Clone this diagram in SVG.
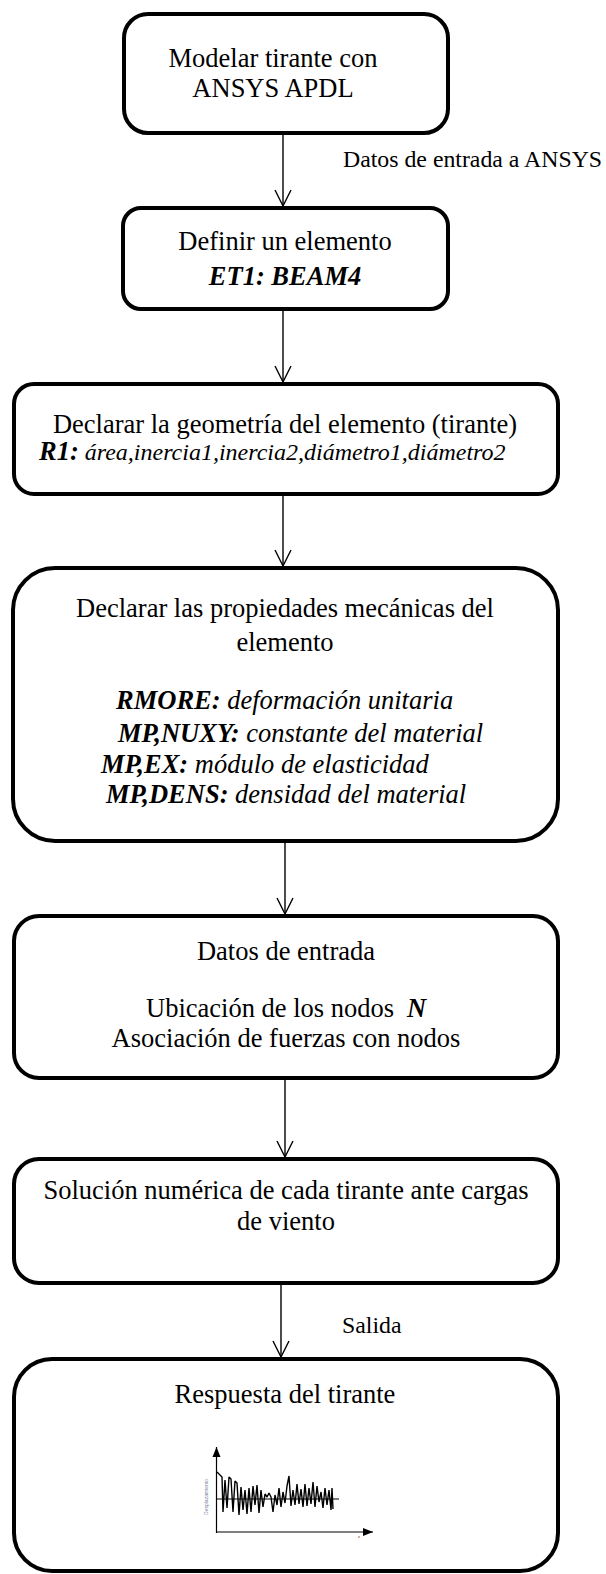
<svg xmlns="http://www.w3.org/2000/svg" width="606" height="1574" viewBox="0 0 606 1574">
<style>
.box{fill:#fff;stroke:#000;stroke-width:4}
.t{font-family:"Liberation Serif","Times New Roman",serif;font-size:26.5px;fill:#000}
.lbl{font-family:"Liberation Serif","Times New Roman",serif;font-size:23.8px;fill:#000}
.bi{font-weight:bold;font-style:italic}
.it{font-style:italic}
.conn{stroke:#000;stroke-width:1.4;fill:none}
</style>
<defs>
<marker id="vhead" markerUnits="userSpaceOnUse" markerWidth="20" markerHeight="20" refX="0" refY="0" orient="auto" overflow="visible">
<path d="M-16,-8 L0,0 L-16,8" fill="none" stroke="#000" stroke-width="1.4"/>
</marker>
<marker id="fhead" markerUnits="userSpaceOnUse" markerWidth="12" markerHeight="12" refX="0" refY="0" orient="auto" overflow="visible">
<path d="M-10,-4 L0,0 L-10,4 Z" fill="#000"/>
</marker>
</defs>
<rect width="606" height="1574" fill="#fff"/>
<g id="connectors">
<line class="conn" x1="283" y1="135" x2="283" y2="206" marker-end="url(#vhead)"/>
<line class="conn" x1="283" y1="311" x2="283" y2="382" marker-end="url(#vhead)"/>
<line class="conn" x1="283" y1="496" x2="283" y2="566" marker-end="url(#vhead)"/>
<line class="conn" x1="285" y1="843" x2="285" y2="914" marker-end="url(#vhead)"/>
<line class="conn" x1="285" y1="1080" x2="285" y2="1157" marker-end="url(#vhead)"/>
<line class="conn" x1="281" y1="1285" x2="281" y2="1357" marker-end="url(#vhead)"/>
<text class="lbl" x="343" y="167">Datos de entrada a ANSYS</text>
<text class="lbl" x="342" y="1333">Salida</text>
</g>
<g id="n1">
<rect class="box" x="124" y="14" width="324" height="119" rx="24"/>
<text class="t" x="273" y="67" text-anchor="middle">Modelar tirante con</text>
<text class="t" x="273" y="97" text-anchor="middle">ANSYS APDL</text>
</g>
<g id="n2">
<rect class="box" x="123" y="208" width="325" height="101" rx="18"/>
<text class="t" x="285" y="250" text-anchor="middle">Definir un elemento</text>
<text class="t bi" x="285" y="285" text-anchor="middle">ET1: BEAM4</text>
</g>
<g id="n3">
<rect class="box" x="14" y="384" width="544" height="110" rx="20"/>
<text class="t" x="285" y="433" text-anchor="middle">Declarar la geometría del elemento (tirante)</text>
<text class="t" x="39" y="460"><tspan class="bi">R1:</tspan><tspan class="it" font-size="24"> área,inercia1,inercia2,diámetro1,diámetro2</tspan></text>
</g>
<g id="n4">
<rect class="box" x="13" y="568" width="545" height="273" rx="42"/>
<text class="t" x="285" y="617" text-anchor="middle">Declarar las propiedades mecánicas del</text>
<text class="t" x="285" y="651" text-anchor="middle">elemento</text>
<text class="t" x="116" y="709"><tspan class="bi">RMORE:</tspan><tspan class="it"> deformación unitaria</tspan></text>
<text class="t" x="118" y="742"><tspan class="bi">MP,NUXY:</tspan><tspan class="it"> constante del material</tspan></text>
<text class="t" x="101" y="773"><tspan class="bi">MP,EX:</tspan><tspan class="it"> módulo de elasticidad</tspan></text>
<text class="t" x="106" y="803"><tspan class="bi">MP,DENS:</tspan><tspan class="it"> densidad del material</tspan></text>
</g>
<g id="n5">
<rect class="box" x="14" y="916" width="544" height="162" rx="25"/>
<text class="t" x="286" y="960" text-anchor="middle">Datos de entrada</text>
<text class="t" x="146" y="1017">Ubicación de los nodos<tspan class="bi" dx="13">N</tspan></text>
<text class="t" x="286" y="1047" text-anchor="middle">Asociación de fuerzas con nodos</text>
</g>
<g id="n6">
<rect class="box" x="14" y="1159" width="544" height="124" rx="25"/>
<text class="t" x="286" y="1199" text-anchor="middle">Solución numérica de cada tirante ante cargas</text>
<text class="t" x="286" y="1230" text-anchor="middle">de viento</text>
</g>
<g id="n7">
<rect class="box" x="14" y="1359" width="544" height="212" rx="38"/>
<text class="t" x="285" y="1403" text-anchor="middle">Respuesta del tirante</text>
<g id="chart">
<line x1="216.5" y1="1533" x2="216.5" y2="1447" stroke="#000" stroke-width="1.2" marker-end="url(#fhead)"/>
<line x1="216" y1="1532" x2="373" y2="1532" stroke="#000" stroke-width="1.2" marker-end="url(#fhead)"/>
<line x1="216" y1="1499" x2="339" y2="1499" stroke="#000" stroke-width="1.2"/>
<polyline fill="none" stroke="#000" stroke-width="1.4" stroke-linejoin="bevel" points="217,1472 222,1477 223,1512 225,1480 227,1508 229,1477 231,1479 233,1512 235,1481 237,1483 239,1515 241,1487 243,1510 245,1490 247,1514 249,1488 251,1512 253,1486 255,1505 257,1485 259,1513 261,1490 263,1507 265,1494 267,1497 269,1493 271,1497 273,1512 275,1495 277,1505 279,1488 281,1507 283,1492 285,1503 287,1486 289,1476 291,1506 293,1490 295,1505 297,1484 299,1504 301,1489 303,1507 305,1484 307,1506 309,1488 311,1504 313,1482 315,1507 317,1486 319,1502 321,1492 323,1508 325,1488 327,1505 329,1490 331,1510 332,1488 333,1509"/>
<text x="208" y="1497" transform="rotate(-90 208 1497)" text-anchor="middle" font-family="Liberation Sans, sans-serif" font-size="5" fill="#7a86a8">Desplazamiento</text>
<circle cx="359" cy="1537" r="0.8" fill="#a0522d"/>
</g>
</g>
</svg>
